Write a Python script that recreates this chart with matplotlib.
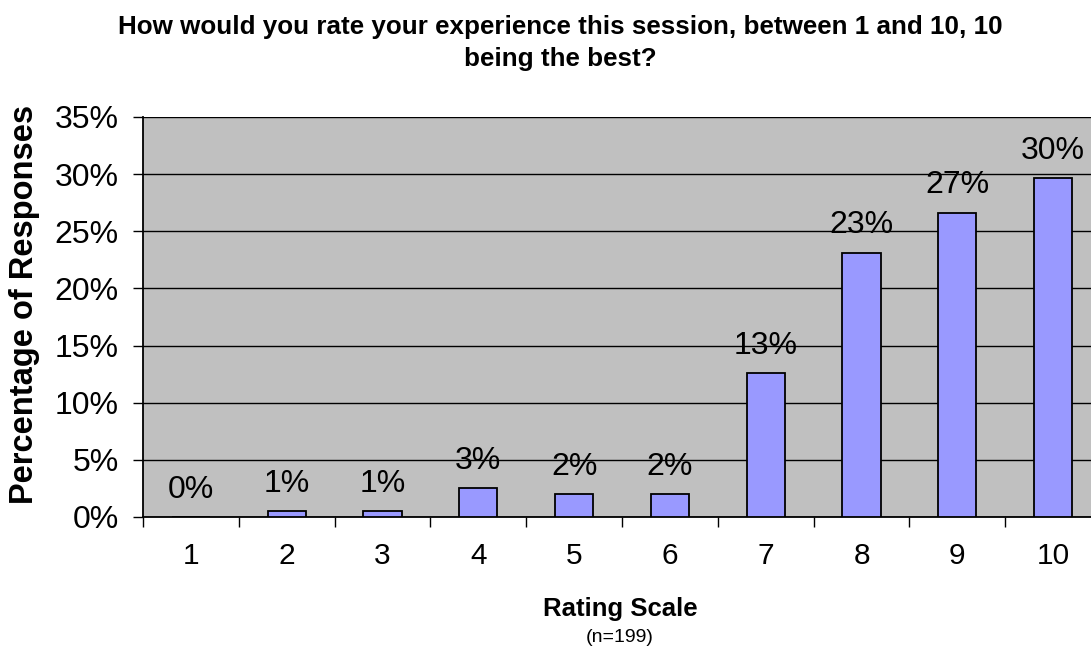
import numpy as np
import matplotlib
matplotlib.use("Agg")
from matplotlib import pyplot as plt
from matplotlib.ticker import FixedLocator, PercentFormatter

plt.rcParams['font.family'] = ['Liberation Sans', 'DejaVu Sans']

# responses per rating, n=199
ratings = ['1', '2', '3', '4', '5', '6', '7', '8', '9', '10']
counts = [0, 1, 1, 5, 4, 4, 25, 46, 53, 59]
n_total = 199

pct = np.array(counts) / n_total * 100

fig = plt.figure(figsize=(10.91, 6.5), dpi=100)
ax = fig.add_axes([143 / 1091, 1 - 517 / 650, 958 / 1091, 400 / 650])
ax.set_facecolor('#c0c0c0')

x = np.arange(len(ratings))
ax.bar(x, pct, width=0.4, color='#9999ff', edgecolor='black', linewidth=1.3, zorder=3)

# value labels above the bars
for xi, p in zip(x, pct):
    lab = '%d%%' % int(np.floor(p + 0.5))
    ax.text(xi, p + 1.7, lab, ha='center', va='baseline', fontsize=23, zorder=4)

ax.set_xlim(-0.5, len(ratings) - 0.5)
ax.set_ylim(0, 35)
ax.set_yticks(np.arange(0, 36, 5))
ax.yaxis.set_major_formatter(PercentFormatter(decimals=0))
ax.yaxis.grid(True, color='black', linewidth=1.0, zorder=1)
ax.set_axisbelow(True)

# category labels centred, ticks between categories
ax.xaxis.set_major_locator(FixedLocator(np.arange(-0.5, len(ratings), 1.0)))
ax.xaxis.set_minor_locator(FixedLocator(x))
ax.set_xticklabels([])
ax.set_xticklabels(ratings, minor=True)
ax.tick_params(axis='x', which='major', length=7.5, width=1, direction='out')
ax.tick_params(axis='x', which='minor', length=0, pad=18, labelsize=21.5)
ax.tick_params(axis='y', length=7.5, width=1, direction='out', labelsize=23, pad=10)

for s in ['top', 'right']:
    ax.spines[s].set_visible(False)
ax.spines['left'].set_linewidth(1.3)
ax.spines['bottom'].set_linewidth(1.3)

fig.text(25 / 1091, 1 - 304 / 650, 'Percentage of Responses', rotation=90,
         ha='center', va='center', fontsize=23.5, fontweight='bold')

fig.text(560 / 1091, 1 - 43 / 650,
         'How would you rate your experience this session, between 1 and 10, 10\nbeing the best?',
         ha='center', va='center', fontsize=18.7, fontweight='bold', linespacing=1.45)
fig.text(620 / 1091, 1 - 609 / 650, 'Rating Scale', ha='center', va='center',
         fontsize=18.5, fontweight='bold')
fig.text(620 / 1091, 1 - 638 / 650, '(n=199)', ha='center', va='center', fontsize=14)

fig.savefig('out.png', dpi=100)
